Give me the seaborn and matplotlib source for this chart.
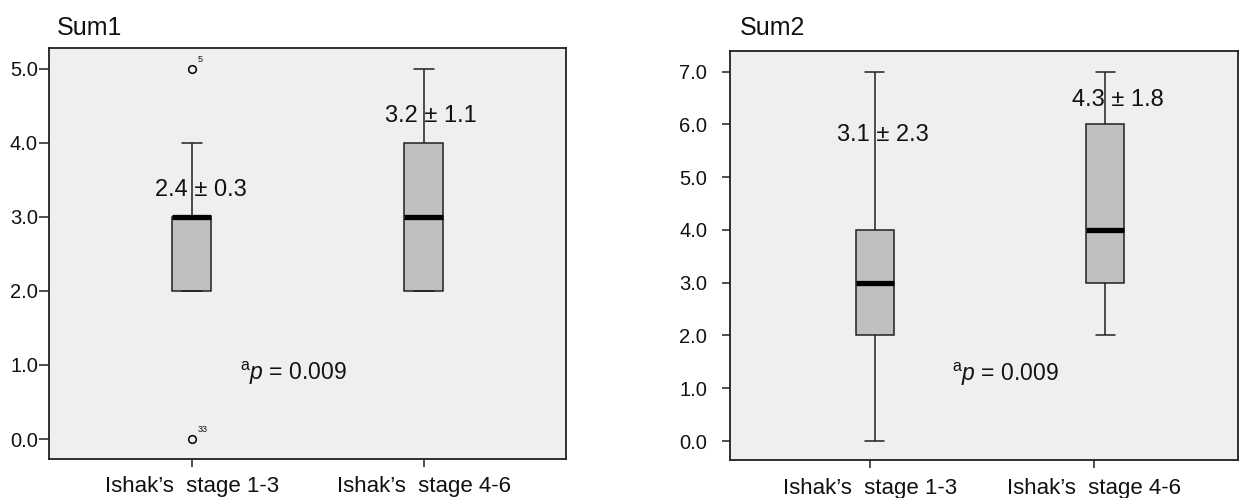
import numpy as np
import pandas as pd
import seaborn as sns
import matplotlib.pyplot as plt

# ---------------- data ----------------
groups = ["Ishak\u2019s  stage 1-3", "Ishak\u2019s  stage 4-6"]
sum1_stage13 = [0, 2, 2, 2, 3, 3, 3, 3, 3, 4, 5]
sum1_stage46 = [2, 2, 2, 2, 3, 3, 3, 4, 4, 4, 5]
sum2_stage13 = [0, 1, 2, 2, 2, 3, 3, 3, 4, 4, 5, 6, 7]
sum2_stage46 = [2, 3, 3, 3, 4, 4, 4, 5, 6, 6, 6, 7]
sum1_meansd = ["2.4 \u00b1 0.3", "3.2 \u00b1 1.1"]
sum2_meansd = ["3.1 \u00b1 2.3", "4.3 \u00b1 1.8"]
sum1_outliers = [5, 0]
sum1_outlier_ids = ["5", "33"]
p_value = "0.009"
yticks1 = [0, 1, 2, 3, 4, 5]
yticks2 = [0, 1, 2, 3, 4, 5, 6, 7]
titles = ["Sum1", "Sum2"]

sns.set_theme(style="white")
plt.rcParams['font.family'] = ['Liberation Sans', 'DejaVu Sans']
plt.rcParams['mathtext.fontset'] = 'custom'
plt.rcParams['mathtext.rm'] = 'Liberation Sans'
plt.rcParams['mathtext.it'] = 'Liberation Sans:italic'

EDGE = '#231f20'
BG = '#efefef'
BOX = '#c0c0c0'
TXT = '#111111'

fig = plt.figure(figsize=(12.4, 4.98), dpi=100)
ax1 = fig.add_axes([49/1240, 1-459/498, (566-49)/1240, (459-48)/498])
ax2 = fig.add_axes([730/1240, 1-460/498, (1238-730)/1240, (460-51)/498])


def make_df(a, b):
    return pd.DataFrame({
        "stage": [groups[0]] * len(a) + [groups[1]] * len(b),
        "value": list(a) + list(b),
    })


def draw(ax, df, width):
    sns.boxplot(data=df, x="stage", y="value", ax=ax, order=groups,
                width=width, color=BOX, saturation=1, linecolor=EDGE,
                linewidth=1.1,
                medianprops=dict(color='black', linewidth=3.8),
                flierprops=dict(marker='o', markersize=5.5,
                                markerfacecolor='none',
                                markeredgecolor='black',
                                markeredgewidth=1.1))
    ax.set_facecolor(BG)
    for s in ax.spines.values():
        s.set_visible(True)
        s.set_color(EDGE)
        s.set_linewidth(1.3)
    ax.set_xlabel('')
    ax.set_ylabel('')


draw(ax1, make_df(sum1_stage13, sum1_stage46), 0.168)
draw(ax2, make_df(sum2_stage13, sum2_stage46), 0.165)

# axis limits / ticks
ax1.set_xlim(-0.616, 1.612)
ax1.set_ylim(-0.27, 5.28)
ax1.set_yticks(yticks1, [f"{v:.1f}" for v in yticks1])
ax1.set_xticks([0, 1], groups)
ax1.tick_params(axis='y', left=True, length=7.5, width=1.1, color=EDGE,
                pad=0.5, labelsize=14.5, labelcolor=TXT)
ax1.tick_params(axis='x', bottom=True, length=6, width=1.1, color=EDGE,
                pad=6, labelsize=16, labelcolor=TXT)

ax2.set_xlim(-0.63, 1.578)
ax2.set_ylim(-0.36, 7.39)
ax2.set_yticks(yticks2, [f"{v:.1f}" for v in yticks2])
ax2.set_xticks([-0.02, 0.95], groups)
ax2.tick_params(axis='y', left=True, length=6, width=1.1, color=EDGE,
                pad=10.5, labelsize=14.5, labelcolor=TXT)
ax2.tick_params(axis='x', bottom=True, length=6, width=1.1, color=EDGE,
                pad=7, labelsize=16, labelcolor=TXT)

# mean +/- sd annotations
ax1.text(0.04, 3.36, sum1_meansd[0], ha='center', va='center', fontsize=17, color=TXT)
ax1.text(1.03, 4.36, sum1_meansd[1], ha='center', va='center', fontsize=17, color=TXT)
ax2.text(0.035, 5.79, sum2_meansd[0], ha='center', va='center', fontsize=17, color=TXT)
ax2.text(1.057, 6.47, sum2_meansd[1], ha='center', va='center', fontsize=17, color=TXT)

# p-values
ptxt = r'${}^{\mathrm{a}}\mathit{p}$ = ' + p_value
ax1.text(0.435, 0.88, ptxt, ha='center', va='center', fontsize=16.5, color=TXT)
ax2.text(0.565, 1.27, ptxt, ha='center', va='center', fontsize=16.5, color=TXT)

# outlier case labels
for yv, lab in zip(sum1_outliers, sum1_outlier_ids):
    ax1.annotate(lab, xy=(0, yv), xytext=(4, 6.8), textcoords='offset points',
                 ha='left', va='center', fontsize=6.5, color=TXT)

# panel titles
fig.text(57/1240, 1-35/498, titles[0], ha='left', va='baseline', fontsize=18, color=TXT)
fig.text(740/1240, 1-35/498, titles[1], ha='left', va='baseline', fontsize=18, color=TXT)

fig.savefig("out.png", dpi=100, facecolor='white')
